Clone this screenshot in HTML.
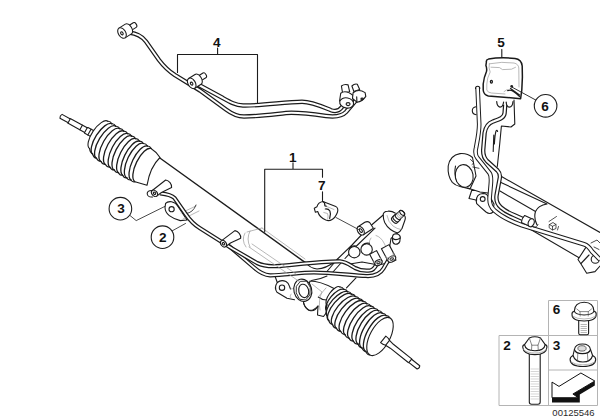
<!DOCTYPE html>
<html>
<head>
<meta charset="utf-8">
<title>Steering rack diagram</title>
<style>
html,body{margin:0;padding:0;background:#fff;}
body{width:600px;height:420px;overflow:hidden;font-family:"Liberation Sans",sans-serif;}
svg{display:block;position:absolute;left:0;top:0;}
.l{fill:none;stroke:#1c1c1c;stroke-width:1.1;vector-effect:non-scaling-stroke;stroke-linecap:round;stroke-linejoin:round;}
.lw{fill:#fff;stroke:#1c1c1c;stroke-width:1.1;vector-effect:non-scaling-stroke;stroke-linecap:round;stroke-linejoin:round;}
.t{fill:none;stroke:#555;stroke-width:0.7;stroke-linecap:round;stroke-linejoin:round;}
.g{fill:none;stroke:#999;stroke-width:0.7;stroke-linecap:round;stroke-linejoin:round;}
.po{fill:none;stroke:#1c1c1c;stroke-width:4.4;stroke-linecap:butt;stroke-linejoin:round;}
.pi{fill:none;stroke:#fff;stroke-width:2.0;stroke-linecap:butt;stroke-linejoin:round;}
.lab{font-family:"Liberation Sans",sans-serif;font-weight:bold;font-size:13.6px;fill:#111;text-anchor:middle;}
.tb{fill:none;stroke:#b4b4b4;stroke-width:1;}
</style>
</head>
<body>
<svg width="600" height="420" viewBox="0 0 600 420">
<rect x="0" y="0" width="600" height="420" fill="#fff"/>


<!-- ===== MAIN RACK ===== -->
<g id="rack">
<path d="M159.5 157.5L305 262L290 283L146 180Z" fill="#fff" stroke="none"/>
<path class="l" d="M159.5 157.8L305 262.4" style="stroke-width:1.4"/>
<g transform="translate(61,116.3) rotate(29)">
  <path class="lw" d="M0 -2.2Q-1.4 0 0 2.2L9 2.2L9.6 2.6L28 2.6L29 3.3L38 3.3L38 -3.3L29 -3.3L28 -2.6L9.6 -2.6L9 -2.2Z"/>
  <path class="l" d="M9.3 -2.4V2.4M23 -2.6V2.6M28.5 -3V3M32.5 -3.3V3.3"/>
</g>
<path d="M107.8 121.2L111.8 123.7L115.7 126.2L119.7 128.6L123.6 131.1L127.6 133.6L131.5 136.1L135.5 138.6L139.4 141.1L143.4 143.5L147.3 146.0L151.3 148.5L135.0 181.7L131.0 180.0L126.8 177.8L122.7 175.3L118.5 172.7L114.3 170.0L110.0 167.2L105.5 164.5L101.0 161.5L96.5 158.3L92.5 154.0L89.5 148.5Z" fill="#fff" stroke="none"/>
<path class="lw" d="M107.8 121.2A6.6 16.4 33.8 0 0 89.5 148.5" style="fill:#fff"/>
<path class="l" d="M107.8 121.2Q110.5 121.0 111.8 123.7"/>
<path class="l" d="M89.5 148.5Q90.1 152.8 92.5 154.0"/>
<path class="l" style="stroke-width:1.3" d="M111.8 123.7A7.2 18.0 32.4 0 0 92.5 154.0"/>
<path class="l" d="M111.8 123.7Q114.4 123.5 115.7 126.2"/>
<path class="l" d="M92.5 154.0Q93.6 157.7 96.5 158.3"/>
<path class="l" style="stroke-width:1.3" d="M115.7 126.2A7.5 18.7 30.9 0 0 96.5 158.3"/>
<path class="l" d="M115.7 126.2Q118.4 126.0 119.7 128.6"/>
<path class="l" d="M96.5 158.3Q97.8 161.4 101.0 161.5"/>
<path class="l" style="stroke-width:1.3" d="M119.7 128.6A7.6 18.9 29.6 0 0 101.0 161.5"/>
<path class="l" d="M119.7 128.6Q122.3 128.5 123.6 131.1"/>
<path class="l" d="M101.0 161.5Q102.3 164.5 105.5 164.5"/>
<path class="l" style="stroke-width:1.3" d="M123.6 131.1A7.6 19.0 28.5 0 0 105.5 164.5"/>
<path class="l" d="M123.6 131.1Q126.3 131.0 127.6 133.6"/>
<path class="l" d="M105.5 164.5Q106.8 167.3 110.0 167.2"/>
<path class="l" style="stroke-width:1.3" d="M127.6 133.6A7.6 19.0 27.6 0 0 110.0 167.2"/>
<path class="l" d="M127.6 133.6Q130.2 133.5 131.5 136.1"/>
<path class="l" d="M110.0 167.2Q111.2 170.1 114.3 170.0"/>
<path class="l" style="stroke-width:1.3" d="M131.5 136.1A7.6 19.0 26.9 0 0 114.3 170.0"/>
<path class="l" d="M131.5 136.1Q134.2 135.9 135.5 138.6"/>
<path class="l" d="M114.3 170.0Q115.5 172.8 118.5 172.7"/>
<path class="l" style="stroke-width:1.3" d="M135.5 138.6A7.6 19.1 26.5 0 0 118.5 172.7"/>
<path class="l" d="M135.5 138.6Q138.2 138.4 139.4 141.1"/>
<path class="l" d="M118.5 172.7Q119.7 175.5 122.7 175.3"/>
<path class="l" style="stroke-width:1.3" d="M139.4 141.1A7.6 19.1 26.0 0 0 122.7 175.3"/>
<path class="l" d="M139.4 141.1Q142.1 140.9 143.4 143.5"/>
<path class="l" d="M122.7 175.3Q123.8 178.1 126.8 177.8"/>
<path class="l" style="stroke-width:1.3" d="M143.4 143.5A7.6 19.0 25.8 0 0 126.8 177.8"/>
<path class="l" d="M143.4 143.5Q146.1 143.4 147.3 146.0"/>
<path class="l" d="M126.8 177.8Q128.0 180.4 131.0 180.0"/>
<path class="l" style="stroke-width:1.3" d="M147.3 146.0A7.5 18.9 25.7 0 0 131.0 180.0"/>
<path class="l" d="M147.3 146.0Q150.0 145.9 151.3 148.5"/>
<path class="l" d="M131.0 180.0Q132.1 182.3 135.0 181.7"/>
<path class="l" style="stroke-width:1.3" d="M151.3 148.5A7.4 18.5 26.1 0 0 135.0 181.7"/>
<path class="lw" d="M151 148.5Q156 151.5 160 157.5Q150 167 147 185.3L135 181.7"/>

<path class="l" d="M130 215.5L136.2 220.6L166.5 205.6M172.3 230.8L185.5 223.5" style="stroke-width:0.8"/>
<path class="lw" d="M165.6 203.4Q167.5 201.2 171.5 201.7Q176 202.7 178 206.5L187 220L180.3 220.6Q173.5 218.8 169.3 215.6Q165.2 212.5 165 207.5Z"/>
<circle class="l" cx="171.6" cy="209.2" r="2.6"/>
<path class="g" d="M181 213L196 206M183 219L199 211"/>
<path class="l" d="M186 213.5Q193 213 196 205" style="stroke-width:0.8"/>
<path class="lw" d="M275.5 277L277.3 282.5Q273.8 287.5 277 292.3L287 298.3L294.5 299.8L296 281L290 276Z" style="stroke:none"/>
<path class="l" d="M275.3 277L277.3 282.5Q273.8 287.5 277 292.3L287 298.3L294.5 299.8"/>
<path class="l" d="M277.3 282.5Q281 279.3 286 281.5Q288.6 283 289.4 286.2L290.5 289"/>
<circle class="l" cx="282" cy="287.7" r="2.7"/>
<path class="g" d="M290.5 289L294.5 288.5M291 294Q289 296 291 298.5"/>
<path class="lw" d="M310 281Q320 281 334 288.5L327 305L326.5 312.5L323.5 316.5L317.5 315L318 306Q313 311.5 308.5 310Q304 306 303.5 302.5Z"/>
<path class="l" d="M303.7 303Q305 309 309.5 310.5Q315 312 318 306M318.3 297Q322 300 326.5 300"/>
<path class="g" d="M312 284L322 292Q318 300 320 310M326 288L319 296"/>
<ellipse class="lw" cx="302.8" cy="290.3" rx="8.9" ry="11.3" transform="rotate(-14 302.8 290.3)"/>
<path class="l" d="M296.6 286L300.3 281.4L306.6 281.2L310.3 287.3L309.8 295.2L305.5 300L299.5 299.2L296.4 293.2Z" style="stroke-width:0.9"/>
<ellipse class="l" cx="303.7" cy="290.9" rx="4.9" ry="6.8" transform="rotate(-14 303.7 290.9)"/>

<path d="M340.0 287.0L343.8 289.4L347.7 291.8L351.5 294.2L355.4 296.5L359.2 298.9L363.1 301.3L366.9 303.7L370.8 306.1L374.6 308.5L378.5 310.8L382.3 313.2L386.2 315.6L390.0 318.0L370.0 355.0L365.9 351.6L361.9 347.9L358.1 344.1L353.5 341.2L349.1 338.2L345.0 334.7L340.7 331.4L336.4 328.3L332.5 324.5L328.8 320.6L327.0 315.5L326.3 310.3L327.0 305.0Z" fill="#fff" stroke="none"/>
<path class="lw" d="M340.0 287.0A4.7 11.1 35.8 0 0 327.0 305.0" style="fill:#fff"/>
<path class="l" d="M340.0 287.0Q342.6 286.8 343.8 289.4"/>
<path class="l" d="M327.0 305.0Q325.8 309.2 326.3 310.3"/>
<path class="l" style="stroke-width:1.3" d="M343.8 289.4A5.7 13.7 39.9 0 0 326.3 310.3"/>
<path class="l" d="M343.8 289.4Q346.5 289.2 347.7 291.8"/>
<path class="l" d="M326.3 310.3Q325.7 314.4 327.0 315.5"/>
<path class="l" style="stroke-width:1.3" d="M347.7 291.8A6.6 15.8 41.1 0 0 327.0 315.5"/>
<path class="l" d="M347.7 291.8Q350.3 291.6 351.5 294.2"/>
<path class="l" d="M327.0 315.5Q327.0 319.6 328.8 320.6"/>
<path class="l" style="stroke-width:1.3" d="M351.5 294.2A7.3 17.4 40.6 0 0 328.8 320.6"/>
<path class="l" d="M351.5 294.2Q354.2 293.9 355.4 296.5"/>
<path class="l" d="M328.8 320.6Q329.8 324.0 332.5 324.5"/>
<path class="l" style="stroke-width:1.3" d="M355.4 296.5A7.6 18.1 39.3 0 0 332.5 324.5"/>
<path class="l" d="M355.4 296.5Q358.0 296.3 359.2 298.9"/>
<path class="l" d="M332.5 324.5Q333.5 327.9 336.4 328.3"/>
<path class="l" style="stroke-width:1.3" d="M359.2 298.9A7.8 18.6 37.9 0 0 336.4 328.3"/>
<path class="l" d="M359.2 298.9Q361.9 298.7 363.1 301.3"/>
<path class="l" d="M336.4 328.3Q337.7 331.3 340.7 331.4"/>
<path class="l" style="stroke-width:1.3" d="M363.1 301.3A7.9 18.7 36.6 0 0 340.7 331.4"/>
<path class="l" d="M363.1 301.3Q365.7 301.1 366.9 303.7"/>
<path class="l" d="M340.7 331.4Q342.0 334.5 345.0 334.7"/>
<path class="l" style="stroke-width:1.3" d="M366.9 303.7A8.0 19.0 35.3 0 0 345.0 334.7"/>
<path class="l" d="M366.9 303.7Q369.5 303.5 370.8 306.1"/>
<path class="l" d="M345.0 334.7Q346.1 338.0 349.1 338.2"/>
<path class="l" style="stroke-width:1.3" d="M370.8 306.1A8.1 19.4 34.0 0 0 349.1 338.2"/>
<path class="l" d="M370.8 306.1Q373.4 305.9 374.6 308.5"/>
<path class="l" d="M349.1 338.2Q350.4 341.2 353.5 341.2"/>
<path class="l" style="stroke-width:1.3" d="M374.6 308.5A8.2 19.5 32.8 0 0 353.5 341.2"/>
<path class="l" d="M374.6 308.5Q377.2 308.3 378.5 310.8"/>
<path class="l" d="M353.5 341.2Q354.9 344.2 358.1 344.1"/>
<path class="l" style="stroke-width:1.3" d="M378.5 310.8A8.2 19.5 31.5 0 0 358.1 344.1"/>
<path class="l" d="M378.5 310.8Q381.1 310.6 382.3 313.2"/>
<path class="l" d="M358.1 344.1Q359.1 347.5 361.9 347.9"/>
<path class="l" style="stroke-width:1.3" d="M382.3 313.2A8.4 20.1 30.5 0 0 361.9 347.9"/>
<path class="l" d="M382.3 313.2Q384.9 313.0 386.2 315.6"/>
<path class="l" d="M361.9 347.9Q363.0 351.2 365.9 351.6"/>
<path class="l" style="stroke-width:1.3" d="M386.2 315.6A8.7 20.6 29.5 0 0 365.9 351.6"/>
<path class="l" d="M386.2 315.6Q388.8 315.4 390.0 318.0"/>
<path class="l" d="M365.9 351.6Q367.0 354.8 370.0 355.0"/>
<ellipse class="lw" cx="380.0" cy="336.5" rx="9.9" ry="21.0" transform="rotate(28.4 380.0 336.5)"/>
<g transform="translate(384,340) rotate(38.5)">
  <path class="lw" d="M-1 -4.2Q2 -4.4 4.5 -3.2L10 -2.5L33 -2.5L34 -2.1L44 -2.1Q45.6 0 44 2.1L34 2.1L33 2.5L10 2.5L4.5 3.2Q2 4.4 -1 4.2Z"/>
  <path class="l" d="M4.5 -3.2V3.2M33.5 -2.3V2.3"/>
</g>
<path class="l" d="M305 262Q310 268.3 317 269Q326 268.6 335 261.5M337 259.5L326.5 272M345 258.5L332.5 272.5M311.5 280.5Q320 279.5 327 276" />
<g id="valve">
<!-- main tower body -->
<path class="lw" d="M337 259.5L352 245L367.5 228.5L383.2 215Q383 211.5 387.7 211.2Q392 210.8 395 213L404.5 215.5Q406 217.5 404.8 220.5L402 228.5Q400.5 231.5 397.5 233L391 238.5L389.2 249.5L396 260L392 262L378.5 265L362 262L350 264Z"/>
<!-- dome seam -->
<path class="l" d="M383.2 215Q383.2 219 384.7 222.5Q387 227 390.5 229.5Q394.5 232.3 397.5 233"/>
<path class="g" d="M387 215.5Q388 222 393 226Q397 229 401 229.5"/>
<!-- splined shaft -->
<g transform="translate(394.5,220.2) rotate(-44)">
  <path class="lw" d="M0 -3.7L4.4 -3.7L4.9 -3.1L10.6 -3.1A1.7 3.1 0 0 1 10.6 3.1L4.9 3.1L4.4 3.7L0 3.7A2 3.7 0 0 1 0 -3.7Z"/>
  <ellipse class="l" cx="10.6" cy="0" rx="1.7" ry="3.1"/>
  <path class="l" d="M2 -3.7A2 3.7 0 0 0 2 3.7M4.7 -3.4A1.8 3.4 0 0 0 4.7 3.4" />
  <path class="g" d="M6.6 -3.1A1.7 3.1 0 0 0 6.6 3.1M8.4 -3.1A1.7 3.1 0 0 0 8.4 3.1"/>
</g>
<!-- left body edge second line -->
<path class="l" d="M345 258.5L357 245.5L375 228.2"/>
<path class="g" d="M371 238Q367 243 371.5 250M376 235.5Q381 237 384 243L388 251"/>
<!-- port boss (part 7 target) -->
<g transform="translate(360.7,230.7) rotate(-33)">
  <path class="lw" d="M0 -4.8L8 -4.8Q11 -4.5 12 -2L12 4.8L0 4.8Z"/>
  <ellipse class="lw" cx="0" cy="0" rx="3" ry="4.8"/>
  <ellipse class="l" cx="0.2" cy="0" rx="1.2" ry="2.1"/>
</g>
<!-- small right boss -->
<path class="lw" d="M392.6 238Q392 234.5 395.5 233.8Q399.5 234 400.3 237L399.8 241.5Q398.5 244.5 395.5 244.3Q392 243.5 392.6 238Z"/>
<path class="l" d="M392.8 238.5Q396 241 400.2 238"/>
<!-- round plugs -->
<circle class="lw" cx="354.3" cy="252.2" r="5.7"/>
<circle class="lw" cx="366.6" cy="249.4" r="5.7"/>
<path class="l" d="M349.3 249Q351.5 245 356.5 246M362 246Q364.5 242.3 369.5 243.3"/>
</g>
<path class="po" d="M226 243.5L254 267.5C259 272 264 275 270 275.3C282 275.5 300 272.5 314 272.5C330 272.5 350 275 366 276C375 276.5 380 274.5 383.5 268.5L389 259" style="stroke-width:4.2"/><path class="pi" d="M226 243.5L254 267.5C259 272 264 275 270 275.3C282 275.5 300 272.5 314 272.5C330 272.5 350 275 366 276C375 276.5 380 274.5 383.5 268.5L389 259" style="stroke-width:1.7"/>
<path class="po" d="M160 193.3C166 194 171 194.5 174.5 198L186 214.5C190 220.5 194 224.5 200 228.3L232.5 248.7L257 263C262 265.5 268 266.5 276 266.2C290 265.5 320 261 340 261.3C346 261.5 350 265 355 268C361 271 366 271 370 270.5C373.5 270 375 267.5 376.5 264.5" style="stroke-width:4.2"/><path class="pi" d="M160 193.3C166 194 171 194.5 174.5 198L186 214.5C190 220.5 194 224.5 200 228.3L232.5 248.7L257 263C262 265.5 268 266.5 276 266.2C290 265.5 320 261 340 261.3C346 261.5 350 265 355 268C361 271 366 271 370 270.5C373.5 270 375 267.5 376.5 264.5" style="stroke-width:1.7"/>
<g id="valvefit">
<!-- fitting cyl 3 -->
<g transform="translate(378.5,262.6) rotate(-118)">
  <path class="lw" d="M0 -3.9L11.5 -3.9L11.5 3.9L0 3.9Z"/>
  <ellipse class="lw" cx="0" cy="0" rx="2.6" ry="3.9"/>
  <ellipse class="l" cx="0" cy="0" rx="1.1" ry="1.7"/>
  <path class="g" d="M3 -3.9A2.6 3.9 0 0 0 3 3.9"/>
</g>
<!-- fitting cyl 4 -->
<g transform="translate(391.8,259) rotate(-118)">
  <path class="lw" d="M0 -4.3L14 -4.3L14 4.3L0 4.3Z"/>
  <ellipse class="lw" cx="0" cy="0" rx="2.7" ry="4.3"/>
  <ellipse class="l" cx="0" cy="0" rx="1.1" ry="1.7"/>
  <path class="g" d="M3 -4.3A2.7 4.3 0 0 0 3 4.3M5 -4.3A2.7 4.3 0 0 0 5 4.3"/>
</g>
</g>
<path class="l" d="M356 277.8L346.5 287.8"/>
<g transform="translate(154.5,193.3) rotate(-38)">
  <path class="lw" d="M0 -3.6L17 -3.6A4.5 6 0 0 1 17 6L6 3.6L0 3.6Z"/>
  <ellipse class="lw" cx="0" cy="0" rx="2.6" ry="3.6"/>
  <ellipse class="l" cx="0" cy="0" rx="1" ry="1.4"/>
</g>
<path class="l" d="M151.8 190.5Q147 190.5 147.2 194Q148 197.5 152.5 197"/>
<g transform="translate(223.5,243.7) rotate(-37)">
  <path class="lw" d="M0 -3.6L17 -3.6A4.5 6 0 0 1 17 6L6 3.6L0 3.6Z"/>
  <ellipse class="lw" cx="0" cy="0" rx="2.6" ry="3.6"/>
  <ellipse class="l" cx="0" cy="0" rx="1" ry="1.4"/>
</g>
<path class="g" d="M245 233Q241 240 246 247M250 231Q246 239 250 247M247 232L262 228M249 247L300 282M252 244L296 274M262 228L305 259"/>
<path class="l" d="M336 217.5L358.5 229.5" style="stroke-width:0.8"/>
<path class="lw" d="M322.9 201.5Q318.2 202.3 316.9 206.8L314.3 208.3L315.4 212.3L317.7 211.5Q319.5 217.6 325.8 220L328.2 220.6Q332.6 220.4 335.2 216.6Q338.6 211.5 337.6 208.6Q337 206.8 335.8 206.4Z"/>
<path class="l" d="M322.9 201.5Q325 202.3 324.9 205.8M325.3 209Q328.5 208.7 329.9 211Q331.2 214 329.7 218.4M324.9 205.8L326.5 206.4" style="stroke-width:1.2"/>
<path class="g" d="M323.8 212.5L327.5 213.5Q328.5 216 327.8 218.5M326.5 206.4L334 209.5"/>
</g>
<!-- ===== RIGHT ASSEMBLY ===== -->
<g id="right">
<path d="M501 176L600 232.5L600 272L588 273.5L578 259L525 226L500 200Z" fill="#fff" stroke="none"/>
<path class="l" d="M501.5 176.5L600 232.5"/>
<path class="l" d="M501 182.5L547 204Q538 205.5 535.5 211.5Q533.5 218 537 225"/>
<path class="l" d="M500 191L535.5 211.5"/>
<path class="l" d="M523 225L579.5 258"/>
<path class="lw" d="M585.7 247.6L578 259.5L581 264L586.7 273.3L595 271.6L600 266"/>
<path class="l" d="M581 263.5L589 255"/>
<circle class="lw" cx="595.3" cy="259.2" r="4.1"/>
<path class="l" d="M591 243L597 240L600 243M594 247L599 249.5" style="stroke-width:0.8"/>
<path class="l" d="M549.5 224.5L553 222.5L556 224.5L556 228.5L552.5 230L549.5 228Z M552.5 226.3V229.8M549.5 224.5L552.5 226.3L556 224.5 M549 221.5L556.5 216.5M558.5 226.5L557.5 230" style="stroke-width:0.75"/>
<path d="M514 100L514.8 124L511 127L501.4 126L499.7 144L497.3 166.5L490 160L486 126L488 100Z" fill="#fff"/>
<path class="l" d="M514 100L514.8 124L511 127L501.4 126L499.7 144L497.3 166.5"/>
<path class="l" d="M494.4 144Q495 134 496 131Q497 129.5 497.6 131.5M493.8 135L493.2 151.5"/>
<path class="l" d="M476 106.8Q472.3 107.3 472.3 110.8Q472.3 114.3 476.2 114.8"/>
<path class="lw" d="M472.5 157.5Q467.5 153 460 153.6Q450 155.3 448.2 166Q447.4 176 452.3 182.3Q455.5 185.5 460 186.5L470 189L476 176Z"/>
<path class="l" d="M455.5 166Q453.8 174 457 181.5"/>
<ellipse class="lw" cx="464.2" cy="176" rx="8.9" ry="11.4" transform="rotate(-10 464.2 176)"/>
<path class="l" d="M470.5 159.5L474 162.8L472 164.5M472.8 167L479 168.3" style="stroke-width:0.8"/>
<path class="lw" d="M467.7 188L472 189.5L469 198.5L476 200L476.7 203.7Q480 207 486 212Q490 215 493 212L494 204L488 193L480 192Z"/>
<path class="l" d="M476.5 201Q476 194 483 193.5Q488 193.5 489 199"/>
<circle class="l" cx="482.7" cy="199" r="2.4"/>
<path class="po" d="M505.2 105L504.6 113C504.3 118 499 119.5 493 121.5C487.5 123.5 485.5 127 484.6 133L483.2 150C483 155 484 158 487 161L497.5 170.5C500.3 173.3 500.3 176 499.6 179L496.6 195C495.8 200 497 204 501 207.5C505 211 509 213 514 215L524 219.5"/><path class="pi" d="M505.2 105L504.6 113C504.3 118 499 119.5 493 121.5C487.5 123.5 485.5 127 484.6 133L483.2 150C483 155 484 158 487 161L497.5 170.5C500.3 173.3 500.3 176 499.6 179L496.6 195C495.8 200 497 204 501 207.5C505 211 509 213 514 215L524 219.5"/>
<path class="po" d="M477.6 88L479.2 124C479.3 132 477.5 140 476 148C475 152.5 475 155 477.5 158L489.5 173C491.2 175.2 491.3 178 490.8 184L489.6 198C489.3 203 490.5 207 494.5 210.5C500 215.5 510 221 522 225.3L584 244.3C588 245.5 590 248.3 592 251.5L600 259.5" style="stroke-width:4.6"/><path class="pi" d="M477.6 88L479.2 124C479.3 132 477.5 140 476 148C475 152.5 475 155 477.5 158L489.5 173C491.2 175.2 491.3 178 490.8 184L489.6 198C489.3 203 490.5 207 494.5 210.5C500 215.5 510 221 522 225.3L584 244.3C588 245.5 590 248.3 592 251.5L600 259.5" style="stroke-width:2.6"/>
<path class="l" d="M475.5 88.5Q475.5 86.2 477.7 86.2Q479.8 86.2 479.8 88.5"/>
<path class="l" d="M496.7 101.5Q497 106.5 500 107.2Q503 107 503.6 102M506.2 102Q506.3 106.8 509.3 107.2Q512.6 107 513 101.5" style="stroke-width:1.2"/>
<g transform="translate(531.2,222.8) rotate(-155)">
  <path class="lw" d="M0 -3.9L9 -3.9Q10.5 0 9 3.9L0 3.9Z"/>
  <ellipse class="lw" cx="0" cy="0" rx="2.9" ry="4.1"/>
</g>
<path class="l" d="M533.5 227Q537 228 538 224.5" style="stroke-width:0.8"/>
<path d="M486.4 62Q485.9 59.8 488.5 59.1Q501 56.9 515 58.6Q521.5 59.5 522.2 66L522.4 77L521.8 90L520.6 98.7L488.3 95.9Q483.6 94.8 483.2 90L483.2 84Q484 77 486.3 72Q487.3 69 485.9 65.5Z" fill="#fff" stroke="#1a1a1a" stroke-width="1.5" stroke-linejoin="round"/>
<path class="g" d="M489.3 63.8Q502 61.3 514 63Q518.5 64 518.8 68L519 87M489.3 63.8Q488.3 68 490.2 72Q487 78 486.8 84L486.8 90Q487.8 92.8 491.5 93L505 94M491 67.2L499.5 67.6L502.5 69.6L511.5 69.2L515.5 67.3M504 91.5Q506.5 88.5 510.5 90"/>
<ellipse class="l" cx="491.4" cy="81.8" rx="1" ry="1.4" style="stroke-width:1.3"/>
<circle cx="511.7" cy="86.4" r="1.4" fill="#222"/>
<path class="l" d="M507.7 90.6Q510.5 89.6 513 91.3Q516.5 93.5 519.6 96.6M510.5 88.6L519.5 95" style="stroke-width:1.2"/>
<path class="l" d="M512.3 87.3L535.7 100" style="stroke-width:0.9"/>
</g>
<!-- ===== PIPES (4) ===== -->
<g id="pipes4">
  <!-- pipe A : from fitting1 to lower right fitting -->
  <path id="pA" class="po" d="M129 32.5C137 33.5 142 36 146 41.5L159 60C163.5 66 168 70.5 175 75.2L200 90.5L226 109.5C232 114 237 116.5 244 116.5C258 116.5 272 114.5 286 113C298 112 312 114 326 116C336 117.3 342 116.3 346 112L357 99"/>
  <path class="pi" d="M129 32.5C137 33.5 142 36 146 41.5L159 60C163.5 66 168 70.5 175 75.2L200 90.5L226 109.5C232 114 237 116.5 244 116.5C258 116.5 272 114.5 286 113C298 112 312 114 326 116C336 117.3 342 116.3 346 112L357 99"/>
  <!-- pipe B : from fitting2 to upper right fitting -->
  <path class="po" d="M197 84L222 97.5C230 102 235 105 243 105.5C260 106 285 102 302 101.7C312 101.7 322 106.5 331 110.2C336 112 339.5 110.5 342 107L346 101"/>
  <path class="pi" d="M197 84L222 97.5C230 102 235 105 243 105.5C260 106 285 102 302 101.7C312 101.7 322 106.5 331 110.2C336 112 339.5 110.5 342 107L346 101"/>
  <!-- fitting 1 (top-left) -->
  <g transform="translate(122,33) rotate(-32) scale(1.25)">
    <path class="lw" d="M6 -2.2H12Q13.4 -2.2 13.4 0Q13.4 2.2 12 2.2H6Z"/>
    <path class="lw" d="M0 -4.6H6A2.8 4.6 0 0 1 6 4.6H0Z"/>
    <ellipse class="lw" cx="0" cy="0" rx="2.9" ry="4.6"/>
    <ellipse class="l" cx="-0.2" cy="0.2" rx="0.9" ry="1.3"/>
  </g>
  <!-- fitting 2 -->
  <g transform="translate(191.7,83.3) rotate(-32) scale(1.25)">
    <path class="lw" d="M6 -2.2H12Q13.4 -2.2 13.4 0Q13.4 2.2 12 2.2H6Z"/>
    <path class="lw" d="M0 -4.6H6A2.8 4.6 0 0 1 6 4.6H0Z"/>
    <ellipse class="lw" cx="0" cy="0" rx="2.9" ry="4.6"/>
    <ellipse class="l" cx="-0.2" cy="0.2" rx="0.9" ry="1.3"/>
  </g>
  <!-- fitting 3 (right, lower-left one) -->
  <g transform="translate(346.7,102.7) scale(1.15)">
    <path class="lw" d="M-3.6 -8.5L-4.6 -14.5Q-2 -16.5 1.2 -15.5L2.6 -9.5Z"/>
    <path class="lw" d="M-6.2 -1.5L-5.2 -8.2Q-1 -11.5 5.4 -6.4L5.9 1Z"/>
    <ellipse class="lw" cx="0" cy="0.2" rx="6.1" ry="4.4" transform="rotate(12)"/>
    <ellipse class="l" cx="1.2" cy="1.2" rx="1.7" ry="1.3"/>
  </g>
  <!-- fitting 4 (right, upper-right one) -->
  <g transform="translate(359.5,97)">
    <path class="lw" d="M-5.6 -5.5L-7.6 -11Q-5 -13.6 -2.2 -12.8L0.2 -7.5Z"/>
    <path class="lw" d="M-7 1.5L-6.4 -4.2Q-1 -8.6 5.6 -4.4L6.3 -0.6Q3 4.5 -2.6 5.2Z"/>
    <path class="l" d="M-2.6 5.2L-2.8 -0.2"/>
    <ellipse class="l" cx="2.6" cy="2" rx="1.2" ry="0.9"/>
  </g>
</g>

<!-- ===== LABELS / BRACKETS ===== -->
<g id="labels">
  <!-- 4 bracket -->
  <path class="l" d="M177.5 72.5V54.5H257.5V102.5M217.6 48V54.5"/>
  <text class="lab" x="216.8" y="46.8">4</text>
  <!-- 1 bracket -->
  <path class="l" d="M264.7 232V169.2H322.5V177.2M293 162.8V169.2M322.5 191.8V200.5"/>
  <text class="lab" x="292.8" y="161.8">1</text>
  <text class="lab" x="321.8" y="190.2">7</text>
  <!-- 5 -->
  <path class="l" d="M501.8 49.5V57.3"/>
  <text class="lab" x="501" y="47.2">5</text>
  <!-- circles -->
  <circle class="lw" cx="120.4" cy="208.7" r="11.3"/>
  <text class="lab" x="121" y="213.4">3</text>
  <circle class="lw" cx="162.5" cy="237.2" r="11.3"/>
  <text class="lab" x="162.8" y="242.1">2</text>
  <circle class="lw" cx="545.6" cy="105.8" r="11.3"/>
  <text class="lab" x="545.1" y="110.6">6</text>
</g>

<!-- ===== TABLE ===== -->
<g id="table">
  <path class="tb" d="M548.5 300.5H597.5V405.5H499V335.5H597.5M548.5 300.5V405.5M548.5 370H597.5"/>
  <text class="lab" x="556.5" y="314" >6</text>
  <text class="lab" x="507" y="350">2</text>
  <text class="lab" x="556.5" y="350">3</text>
  <text x="573.5" y="415.6" style='font-family:"Liberation Sans",sans-serif;font-size:9.5px;fill:#2a2a2a;text-anchor:middle;'>00125546</text>
  <!-- bolt 6 -->
  <g id="bolt6">
    <path class="lw" d="M578.7 319L578.7 333.2Q578.7 334.8 580.3 334.8L587 334.8Q588.6 334.8 588.6 333.2L588.6 319Z"/>
    <path class="g" d="M581 324.5H586.5M581 326.5H586.5M581 328.5H586.5M581 330.5H586.5M581 332.5H586.5"/>
    <path class="lw" d="M572 314.5Q571.6 311.8 574.3 311.2Q574.6 302.4 584.2 302.3Q593.6 302.4 594 311.2Q596.6 311.8 596.2 314.5Q596.4 320.9 584.1 321Q571.8 320.9 572 314.5Z"/>
    <path class="l" d="M574.3 311.2Q575.5 314.8 584.1 315Q592.8 314.8 594 311.2"/>
    <path class="t" d="M576.8 309L580 311.6L580.2 316M591.5 309L588.3 311.6L588.2 316M580 311.6H588.3"/>
    <path class="g" d="M572.6 316.2Q577 319 584.1 319Q591.5 319 595.7 316.2"/>
  </g>
  <!-- bolt 2 -->
  <g id="bolt2">
    <path class="lw" d="M529.3 352L529.3 402Q529.3 404.2 531.5 404.2L538 404.2Q540.2 404.2 540.2 402L540.2 352Z"/>
    <path class="g" d="M531 369H538.5M531 371.5H538.5M531 374H538.5M531 376.5H538.5M531 379H538.5M531 381.5H538.5M531 384H538.5M531 386.5H538.5M531 389H538.5M531 391.5H538.5M531 394H538.5M531 396.5H538.5M531 399H538.5" style="stroke:#c4c4c4"/>
    <path class="lw" d="M522.8 347.5Q522.4 345.2 524.5 344.6L529.3 338Q534.8 335.6 540.5 338L545.2 344.6Q547.3 345.2 546.9 347.5Q546.4 354.6 534.9 354.6Q523.4 354.6 522.8 347.5Z"/>
    <path class="l" d="M524.5 344.6Q525.5 350.5 534.9 350.8Q544.3 350.5 545.2 344.6"/>
    <path class="t" d="M529.3 338L531.8 345.2L538 345.2L540.5 338M531.8 345.2L531.5 350.6M538 345.2L538.3 350.6"/>
    <path class="g" d="M523.4 349.5Q527 353 534.9 353Q543 353 546.3 349.5"/>
  </g>
  <!-- nut 3 -->
  <g id="nut3">
    <path class="lw" d="M570.1 359.5Q570 357 573 355.5L574.4 349.5Q575.5 344 582.4 344Q589.5 344 590.5 349.5L592.6 355.5Q595.8 357 595.7 359.5Q595.6 366.5 582.9 366.5Q570.2 366.5 570.1 359.5Z"/>
    <path class="l" d="M574.4 349.5Q575.5 353.6 582.4 353.6Q589.5 353.6 590.5 349.5"/>
    <ellipse cx="582" cy="348.4" rx="4.1" ry="2.7" fill="#ddd" stroke="#444" stroke-width="0.8"/>
    <path class="l" d="M573 355.5Q575 361.8 582.9 362Q591 361.8 592.6 355.5"/>
    <path class="t" d="M577.8 353.2L577.4 361.5M587.4 353.2L588 361.5"/>
    <path class="g" d="M571 362Q575 364.8 582.9 364.8Q591 364.8 595 362"/>
  </g>
  <!-- arrow -->
  <path d="M552 397.7H578.2L572.9 394L594.8 381V385.6L579.8 394.6V402.5H552Z" fill="#111"/>
  <path d="M552 382.1L559 386.4L580.9 373L594.8 381L572.9 394L578.2 397.7H552Z" fill="#fff" stroke="#111" stroke-width="1" stroke-linejoin="miter"/>
</g>

</svg>
</body>
</html>
